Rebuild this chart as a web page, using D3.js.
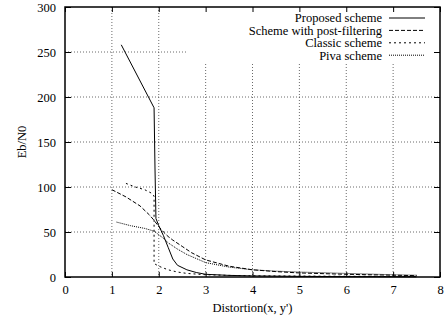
<!DOCTYPE html>
<meta charset="utf-8">
<head>
<title>Eb/N0 vs distortion</title>
<style>
body { margin: 0; background: #fff; }
text { font-family: "Liberation Serif", "Times New Roman", serif; font-size: 12.5px; fill: #000; }
.grid line { stroke: #444; stroke-width: 0.8; stroke-dasharray: 1,2; }
.curve { fill: none; stroke: #000; stroke-width: 1; }
</style>
</head>
<body>
<script src="https://cdn.jsdelivr.net/npm/d3@7/dist/d3.min.js"></script>
<script>

// Data
var x_ticks = [0, 1, 2, 3, 4, 5, 6, 7, 8],
    y_ticks = [0, 50, 100, 150, 200, 250, 300];

var proposed_x = [1.2, 1.9, 1.92, 1.94, 2.0, 2.1, 2.2, 2.3, 2.4, 2.6, 2.8, 3.0, 3.5, 4.0, 5.0, 6.0, 7.0, 7.5],
    proposed_y = [258, 188, 120, 65, 57, 46, 33, 20, 13, 8, 5, 3, 1.8, 1.2, 0.7, 0.4, 0.3, 0.2];

var postfilt_x = [1.0, 1.3, 1.6, 1.8, 1.9, 2.0, 2.1, 2.2, 2.3, 2.5, 2.7, 3.0, 3.5, 4.0, 4.5, 5.0, 6.0, 7.0, 7.5],
    postfilt_y = [97, 89, 79, 69, 63, 56, 50, 45, 41, 34, 27, 19, 12, 8, 6, 4.5, 3, 2, 1.5];

var classic_x = [1.3, 1.5, 1.7, 1.85, 1.9, 1.9, 2.0, 2.2, 2.4, 2.6, 3.0, 3.5, 4.0, 5.0, 6.0, 7.0, 7.5],
    classic_y = [104, 100, 97, 93, 90, 15, 12, 8, 5.5, 4, 2.5, 1.8, 1.3, 1, 0.8, 0.6, 0.5];

var piva_x = [1.1, 1.4, 1.7, 1.9, 2.0, 2.1, 2.2, 2.4, 2.6, 3.0, 3.5, 4.0, 4.5, 5.0, 6.0, 7.0, 7.5],
    piva_y = [61, 57, 54, 51, 47, 43, 38, 31, 25, 16, 11, 8, 6.5, 5.5, 4, 2.5, 2];

var series = [
    {name: "Proposed scheme", xs: proposed_x, ys: proposed_y, dash: null, color: "#000"},
    {name: "Scheme with post-filtering", xs: postfilt_x, ys: postfilt_y, dash: "4,2", color: "#000"},
    {name: "Classic scheme", xs: classic_x, ys: classic_y, dash: "2,3", color: "#000"},
    {name: "Piva scheme", xs: piva_x, ys: piva_y, dash: "1,1", color: "#333"}
];

var W = 447, H = 322,
    margin = {top: 7, right: 7, bottom: 45, left: 65},
    width = W - margin.left - margin.right,
    height = H - margin.top - margin.bottom;

var svg = d3.select("body").append("svg")
    .attr("width", W)
    .attr("height", H);

var g = svg.append("g")
    .attr("transform", "translate(" + margin.left + "," + margin.top + ")");

var x = d3.scaleLinear().domain([0, 8]).range([0, width]),
    y = d3.scaleLinear().domain([0, 300]).range([height, 0]);

// Grid
var grid = g.append("g").attr("class", "grid");
grid.selectAll(".gx").data(x_ticks.slice(1, -1)).enter().append("line")
    .attr("x1", function(d) { return x(d); })
    .attr("x2", function(d) { return x(d); })
    .attr("y1", 0).attr("y2", height);
grid.selectAll(".gy").data(y_ticks.slice(1, -1)).enter().append("line")
    .attr("x1", 0).attr("x2", width)
    .attr("y1", function(d) { return y(d); })
    .attr("y2", function(d) { return y(d); });

// Key box masks the grid
var key_left = 122, key_bottom = 56;
g.append("rect")
    .attr("x", key_left).attr("y", 0)
    .attr("width", width - key_left).attr("height", key_bottom)
    .attr("fill", "#fff");

// Curves
var line = d3.line()
    .x(function(d) { return x(d[0]); })
    .y(function(d) { return y(d[1]); });

g.selectAll(".curve").data(series).enter().append("path")
    .attr("class", "curve")
    .attr("stroke", function(d) { return d.color; })
    .attr("stroke-dasharray", function(d) { return d.dash; })
    .attr("d", function(d) { return line(d3.zip(d.xs, d.ys)); });

// Axes (ticks inward, mirrored)
g.append("g").attr("transform", "translate(0," + height + ")")
    .call(d3.axisBottom(x).tickValues(x_ticks).tickSize(-5).tickPadding(8));
g.append("g")
    .call(d3.axisTop(x).tickValues(x_ticks).tickSize(-5).tickFormat(""));
g.append("g")
    .call(d3.axisLeft(y).tickValues(y_ticks).tickSize(-6).tickPadding(9));
g.append("g").attr("transform", "translate(" + width + ",0)")
    .call(d3.axisRight(y).tickValues(y_ticks).tickSize(-6).tickFormat(""));

g.selectAll(".domain").remove();
g.selectAll(".tick line").attr("stroke", "#000");
g.selectAll(".tick text")
    .style("font-family", "'Liberation Serif', 'Times New Roman', serif")
    .style("font-size", "12.5px");

g.append("rect")
    .attr("width", width).attr("height", height)
    .attr("fill", "none").attr("stroke", "#000").attr("stroke-width", 1.5);

// Key
var key = g.selectAll(".key").data(series).enter().append("g")
    .attr("transform", function(d, i) { return "translate(0," + (11 + i * 12.4) + ")"; });
key.append("text")
    .attr("x", 317).attr("dy", "0.35em")
    .attr("text-anchor", "end")
    .text(function(d) { return d.name; });
key.append("line")
    .attr("class", "curve")
    .attr("x1", 324).attr("x2", 360)
    .attr("stroke", function(d) { return d.color; })
    .attr("stroke-dasharray", function(d) { return d.dash; });

// Axis titles
svg.append("text")
    .attr("x", margin.left + width / 2).attr("y", 312)
    .attr("text-anchor", "middle")
    .text("Distortion(x, y')");
svg.append("text")
    .attr("transform", "translate(26," + (margin.top + height / 2) + ") rotate(-90)")
    .attr("text-anchor", "middle")
    .text("Eb/N0");

</script>
</body>
